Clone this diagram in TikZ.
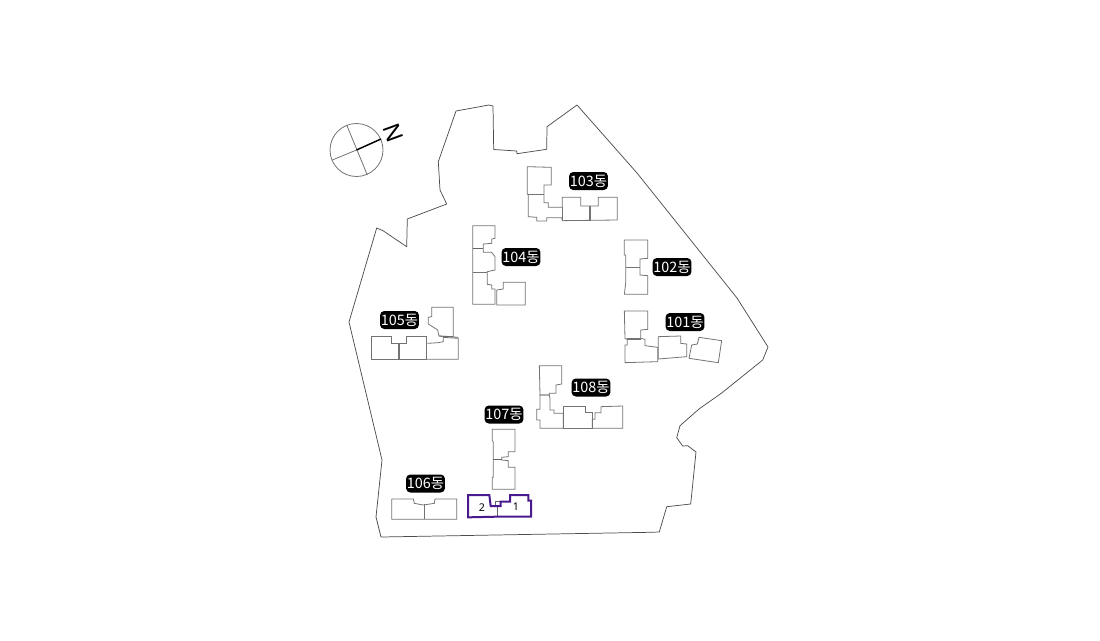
\documentclass[tikz,border=0pt]{standalone}
\usepackage{fontspec}
\setmainfont{Noto Sans CJK KR}
\newfontfamily\latinf{Noto Sans}
\definecolor{plum}{HTML}{4A1A8C}
\tikzset{
 site/.style={draw=black!70,line width=0.55pt,line join=round},
 bld/.style={draw=black!55,line width=0.6pt,line join=miter},
 wall/.style={draw=black!55,line width=1pt},
 thin wall/.style={draw=black!60,line width=0.6pt},
 tagbox/.style={fill=black,text=white,rounded corners=3.2pt,minimum width=29.2pt,minimum height=13.5pt,inner sep=0pt,font=\fontsize{10.8}{11}\selectfont},
 unitno/.style={text=black,inner sep=0pt,font=\latinf\fontsize{8}{8}\selectfont},
 purp/.style={draw=plum,line width=1.5pt,line join=miter},
 zoomed/.style={shift={#1},scale=1/3}
}
\begin{document}
\begin{tikzpicture}[x=0.75pt,y=-0.75pt]
\useasboundingbox (0,0) rectangle (1100,640);
% site
\draw[site] (456,111)--(489,105)--(493,106)--(493.7,149.5)--(516.7,151)--(517,153.7)--(546.7,149.3)--(547,126.7)--(577,105)--(637,173)--(737,298)--(768,347)--(762.7,360)--(721.7,393)--(699,409)--(680,425.7)--(676.7,437.7)--(682.7,446)--(687.7,445.7)--(696,452)--(690.7,504)--(666.7,506.7)--(659.3,532)--(650,532.3)--(381,537)--(376,517)--(382,460)--(349,322)--(376.7,228)--(383,230.7)--(406.7,246.7)--(407.3,219)--(446.7,204)--(440,190)--(438.3,161.7)--cycle;
% compass
\coordinate (cc) at (356.5,150);
\draw[black!55,line width=0.6pt] (cc) circle[radius=26.5];
\draw[black!55,line width=0.6pt] (332.3,160)--(cc) (346.7,125)--(367.3,175);
\draw[black,line width=1.1pt] (cc)--(381,139);
\node[rotate=-70,inner sep=0pt,font=\latinf\fontsize{17.5}{18}\selectfont] (north) at (393,132.5) {N};
% 103
\begin{scope}[zoomed={(510,155)}]
\draw[bld] (52,35)--(124,37)--(124,90)--(102,90)--(102,143)--(115,143)--(115,157)--(157,157)--(157,127)--(212,127)--(212,153)--(265,153)--(265,127)--(322,127)--(322,195)--(157,197)--(155,188)--(110,188)--(110,198)--(80,198)--(80,187)--(55,185)--(55,118)--(52,118)--cycle;
\draw[wall] (55,119)--(102,119) (240,153)--(240,197);
\draw[bld] (157,157)--(157,197);
\end{scope}
% 104
\begin{scope}[zoomed={(460,215)}]
\draw[bld] (38,32)--(105,32)--(105,70)--(95,72)--(95,85)--(70,87)--(70,112)--(95,112)--(105,125)--(105,165)--(82,170)--(82,208)--(95,210)--(95,222)--(105,222)--(105,268)--(38,268)--cycle;
\draw[thin wall] (38,100)--(70,100);
\draw[wall] (38,172)--(82,172);
\draw[bld] (110,225)--(130,222)--(130,202)--(196,202)--(196,270)--(110,270)--cycle;
\end{scope}
% 102
\begin{scope}[zoomed={(610,230)}]
\draw[bld] (43,30)--(113,30)--(113,85)--(90,87)--(90,135)--(113,137)--(113,193)--(43,193)--(47,160)--(47,75)--(43,75)--cycle;
\draw[wall] (47,112)--(90,112);
% 101
\draw[bld] (43,243)--(113,243)--(113,298)--(92,300)--(92,325)--(105,328)--(105,347)--(143,352)--(143,395)--(45,398)--(45,345)--(52,345)--(52,328)--(45,325)--cycle;
\draw[wall] (52,327)--(92,327);
\draw[bld] (145,320)--(212,318)--(212,340)--(230,342)--(230,380)--(145,387)--cycle;
\draw[bld] (267,322)--(335,332)--(325,398)--(237,385)--(245,345)--(262,342)--cycle;
\end{scope}
% 105
\begin{scope}[zoomed={(365,300)}]
\draw[bld] (20,108)--(78,108)--(78,130)--(125,130)--(125,108)--(185,108)--(185,178)--(20,178)--cycle;
\draw[wall] (102,130)--(102,178);
\draw[bld] (200,22)--(265,22)--(265,110)--(222,108)--(218,90)--(190,72)--(190,52)--(200,50)--cycle;
\draw[bld] (185,178)--(280,178)--(280,115)--(235,112)--(235,125)--(220,128)--(187,130);
\draw[thin wall] (222,108)--(280,112);
\end{scope}
% 108
\begin{scope}[zoomed={(530,360)}]
\draw[bld] (28,17)--(95,17)--(95,72)--(78,75)--(78,100)--(58,100)--(58,105)--(30,105)--cycle;
\draw[bld] (30,105)--(58,105)--(60,115)--(60,150)--(72,150)--(72,160)--(100,160)--(100,205)--(30,205)--(30,180)--(20,180)--(20,148)--(30,148)--cycle;
\draw[bld] (100,140)--(167,140)--(167,158)--(187,158)--(187,205)--(100,205)--cycle;
\draw[bld] (187,178)--(195,178)--(195,158)--(213,158)--(213,140)--(278,138)--(278,205)--(187,205)--cycle;
\draw[wall] (100,140)--(100,205) (187,178)--(187,205);
\end{scope}
% 107 and purple
\begin{scope}[zoomed={(460,400)}]
\draw[bld] (97,88)--(165,88)--(165,155)--(145,155)--(145,170)--(125,172)--(125,180)--(145,182)--(145,202)--(165,202)--(165,268)--(97,268)--(97,232)--(100,232)--(100,125)--(97,122)--cycle;
\draw[thin wall] (100,178)--(125,178);
\draw[thin wall] (107,318)--(107,305)--(122,305) (112,318)--(112,350);
\draw[purp] (24,285)--(88,285)--(92,318)--(122,318)--(122,305)--(150,305)--(150,285)--(205,285)--(205,302)--(213,302)--(213,350)--(112,350)--(24,352)--cycle;
\node[unitno] (u2) at (66,322) {2};
\node[unitno] (u1) at (168,321) {1};
\end{scope}
% 106
\begin{scope}[zoomed={(385,470)}]
\draw[bld] (20,87)--(85,87)--(88,100)--(115,105)--(148,100)--(150,87)--(215,87)--(215,148)--(20,148)--cycle;
\draw[wall] (118,103)--(118,148);
\end{scope}
% tags
\node[tagbox] (t103) at (588.5,181) {103동};
\node[tagbox] (t104) at (521,257) {104동};
\node[tagbox] (t102) at (672,267) {102동};
\node[tagbox] (t101) at (685,322) {101동};
\node[tagbox] (t105) at (399.5,320) {105동};
\node[tagbox] (t108) at (591,387.5) {108동};
\node[tagbox] (t107) at (504,414.5) {107동};
\node[tagbox] (t106) at (425.5,483.5) {106동};
\end{tikzpicture}
\end{document}
